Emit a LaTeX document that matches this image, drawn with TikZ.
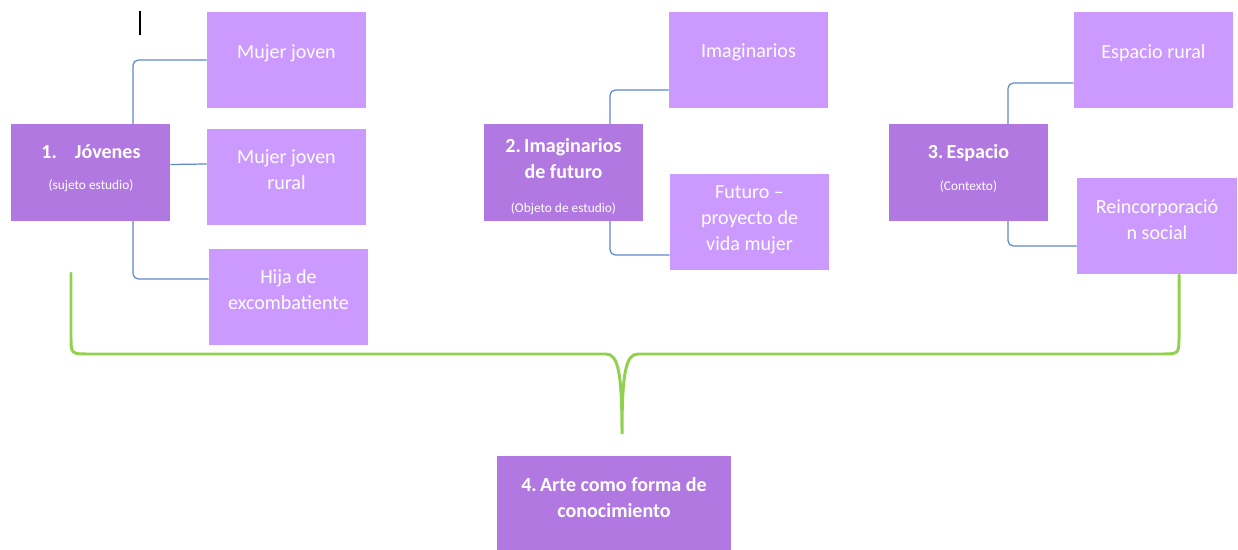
\documentclass[tikz,border=0pt]{standalone}
\usepackage{fontspec}
\setmainfont{Carlito}
\usetikzlibrary{calc}
\definecolor{topicpurple}{RGB}{177,120,226}
\definecolor{leafpurple}{RGB}{204,153,255}
\definecolor{linkblue}{RGB}{95,135,205}
\definecolor{bracegreen}{RGB}{146,208,80}

\begin{document}
\begin{tikzpicture}[x=0.02cm, y=-0.02cm,
    topic/.style={rectangle, fill=topicpurple, minimum width=3.18cm, minimum height=1.93cm, inner sep=0pt},
    leaf/.style={rectangle, fill=leafpurple, minimum width=3.18cm, minimum height=1.92cm, inner sep=0pt},
    txt/.style={text=white, align=center, inner sep=0pt, font=\fontsize{11.4}{14.7}\selectfont},
    link/.style={draw=linkblue, line width=0.7pt, rounded corners=3pt},
    brace/.style={draw=bracegreen, line width=1.7pt, line cap=round}]
  \useasboundingbox (0,0) rectangle (1238,550);
  \draw[line width=0.7pt] (140,11) -- (140,35);
  % boxes
  \node[topic] (jov) at (90.5,172.5) {};
  \node[leaf] (mj) at (286.5,60) {};
  \node[leaf] (mjr) at (286.5,177) {};
  \node[leaf] (hija) at (288.5,297) {};
  \node[topic] (imf) at (563.5,172.5) {};
  \node[leaf] (imag) at (748.5,60) {};
  \node[leaf] (fut) at (749.5,222) {};
  \node[topic] (esp) at (968.5,172.5) {};
  \node[leaf] (espr) at (1153.5,60) {};
  \node[leaf, minimum width=3.2cm] (reinc) at (1157,226) {};
  \node[topic, minimum width=4.68cm, minimum height=1.9cm] (arte) at (614,503.5) {};
  % texts
  \node[txt] (jov-t) at (91,168.5) {\textbf{1.\hspace{0.9em}Jóvenes}\\[3.2pt]{\fontsize{7.6}{9}\selectfont (sujeto estudio)}};
  \node[txt] (mj-t) at (286.5,53) {Mujer joven};
  \node[txt] (mjr-t) at (286.5,170) {Mujer joven\\rural};
  \node[txt] (hija-t) at (288.5,290) {Hija de\\excombatiente};
  \node[txt] (imf-t) at (563.5,176.5) {\textbf{2.\,Imaginarios}\\\textbf{de futuro}\\[4.4pt]{\fontsize{7.6}{9}\selectfont (Objeto de estudio)}};
  \node[txt] (imag-t) at (748.5,52) {Imaginarios};
  \node[txt] (fut-t) at (749.5,220) {Futuro –\\proyecto de\\vida mujer};
  \node[txt] (esp-t) at (968.5,168.5) {\textbf{3.\,Espacio}\\[3.2pt]{\fontsize{7.6}{9}\selectfont (Contexto)}};
  \node[txt] (espr-t) at (1153.5,53) {Espacio rural};
  \node[txt] (reinc-t) at (1157,220) {Reincorporació\\n social};
  \node[txt] (arte-t) at (614,497.5) {\textbf{4.\,Arte como forma de}\\\textbf{conocimiento}};
  % connectors
  \draw[link] ($(jov.north)+(42.5,0)$) |- (mj.west);
  \draw[link] ($(jov.east)+(0,-8)$) -- ($(mjr.west)+(0,-13)$);
  \draw[link] ($(jov.south)+(42.5,0)$) |- ($(hija.west)+(0,-18)$);
  \draw[link] ($(imf.north)+(46.5,0)$) |- ($(imag.west)+(0,30)$);
  \draw[link] ($(imf.south)+(46.5,0)$) |- ($(fut.west)+(0,33)$);
  \draw[link] ($(esp.north)+(39.5,0)$) |- ($(espr.west)+(0,23)$);
  \draw[link] ($(esp.south)+(39.5,0)$) |- ($(reinc.west)+(0,20)$);
  % brace
  \coordinate (bl) at (71,273);
  \coordinate (br) at (1179,275);
  \coordinate (tip) at (622,434);
  \draw[brace] (bl) -- (71,336) .. controls (71,354) .. (89,354) -- (606,354)
    .. controls (618,354) and (622,372) .. (tip)
    .. controls (622,372) and (626,354) .. (638,354) -- (1161,354)
    .. controls (1179,354) .. (1179,336) -- (br);
\end{tikzpicture}
\end{document}
